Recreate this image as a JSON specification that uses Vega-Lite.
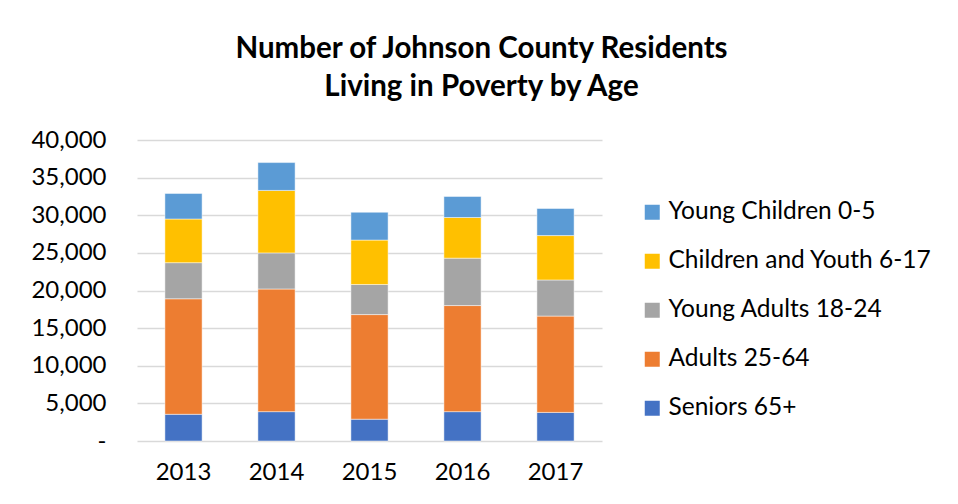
{
  "$schema": "https://vega.github.io/schema/vega-lite/v6.json",
  "autosize": {"type": "none"},
  "width": 465,
  "height": 301,
  "padding": {"left": 137, "top": 140, "right": 356, "bottom": 63},
  "background": "#ffffff",
  "title": {
    "text": ["Number of Johnson County Residents", "Living in Poverty by Age"],
    "font": "Lato",
    "fontSize": 29.5,
    "fontWeight": "bold",
    "color": "#000000",
    "anchor": "middle",
    "frame": "group",
    "dx": 112,
    "offset": 26,
    "lineHeight": 38
  },
  "data": {
    "values": [
      {"year": "2013", "group": "Seniors 65+", "k": 1, "value": 3550},
      {"year": "2013", "group": "Adults 25-64", "k": 2, "value": 15350},
      {"year": "2013", "group": "Young Adults 18-24", "k": 3, "value": 4800},
      {"year": "2013", "group": "Children and Youth 6-17", "k": 4, "value": 5800},
      {"year": "2013", "group": "Young Children 0-5", "k": 5, "value": 3400},
      {"year": "2014", "group": "Seniors 65+", "k": 1, "value": 3900},
      {"year": "2014", "group": "Adults 25-64", "k": 2, "value": 16300},
      {"year": "2014", "group": "Young Adults 18-24", "k": 3, "value": 4800},
      {"year": "2014", "group": "Children and Youth 6-17", "k": 4, "value": 8300},
      {"year": "2014", "group": "Young Children 0-5", "k": 5, "value": 3700},
      {"year": "2015", "group": "Seniors 65+", "k": 1, "value": 2900},
      {"year": "2015", "group": "Adults 25-64", "k": 2, "value": 13900},
      {"year": "2015", "group": "Young Adults 18-24", "k": 3, "value": 4000},
      {"year": "2015", "group": "Children and Youth 6-17", "k": 4, "value": 5900},
      {"year": "2015", "group": "Young Children 0-5", "k": 5, "value": 3700},
      {"year": "2016", "group": "Seniors 65+", "k": 1, "value": 3900},
      {"year": "2016", "group": "Adults 25-64", "k": 2, "value": 14100},
      {"year": "2016", "group": "Young Adults 18-24", "k": 3, "value": 6300},
      {"year": "2016", "group": "Children and Youth 6-17", "k": 4, "value": 5400},
      {"year": "2016", "group": "Young Children 0-5", "k": 5, "value": 2800},
      {"year": "2017", "group": "Seniors 65+", "k": 1, "value": 3800},
      {"year": "2017", "group": "Adults 25-64", "k": 2, "value": 12800},
      {"year": "2017", "group": "Young Adults 18-24", "k": 3, "value": 4800},
      {"year": "2017", "group": "Children and Youth 6-17", "k": 4, "value": 5900},
      {"year": "2017", "group": "Young Children 0-5", "k": 5, "value": 3600}
    ]
  },
  "mark": {"type": "bar", "stroke": "#ffffff", "strokeWidth": 0.8, "strokeOpacity": 0.6},
  "encoding": {
    "x": {
      "field": "year",
      "type": "nominal",
      "scale": {"paddingInner": 0.6, "paddingOuter": 0.3},
      "axis": {
        "title": null,
        "labelAngle": 0,
        "labelFont": "Lato",
        "labelFontSize": 24,
        "labelColor": "#000000",
        "labelPadding": 19,
        "ticks": false,
        "tickSize": 0,
        "domain": false
      }
    },
    "y": {
      "field": "value",
      "type": "quantitative",
      "aggregate": "sum",
      "stack": "zero",
      "scale": {"domain": [0, 40000]},
      "axis": {
        "title": null,
        "values": [0, 5000, 10000, 15000, 20000, 25000, 30000, 35000, 40000],
        "labelExpr": "datum.value == 0 ? '-\u2002\u2002' : format(datum.value, ',')",
        "labelFont": "Lato",
        "labelFontSize": 24,
        "labelColor": "#000000",
        "labelPadding": 31,
        "ticks": false,
        "tickSize": 0,
        "domain": false,
        "grid": true,
        "gridColor": "#d9d9d9",
        "gridWidth": 1.4
      }
    },
    "color": {
      "field": "group",
      "type": "nominal",
      "scale": {
        "domain": ["Young Children 0-5", "Children and Youth 6-17", "Young Adults 18-24", "Adults 25-64", "Seniors 65+"],
        "range": ["#5B9BD5", "#FFC000", "#A5A5A5", "#ED7D31", "#4472C4"]
      },
      "legend": {
        "title": null,
        "orient": "none",
        "legendX": 503,
        "legendY": 60,
        "padding": 0,
        "symbolType": "square",
        "symbolSize": 225,
        "symbolStrokeWidth": 0,
        "symbolOpacity": 1,
        "labelFont": "Lato",
        "labelFontSize": 24.5,
        "labelColor": "#000000",
        "labelOffset": 4,
        "labelLimit": 400,
        "rowPadding": 24
      }
    },
    "order": {"field": "k", "type": "quantitative", "sort": "ascending"}
  },
  "config": {
    "view": {"stroke": null}
  }
}
